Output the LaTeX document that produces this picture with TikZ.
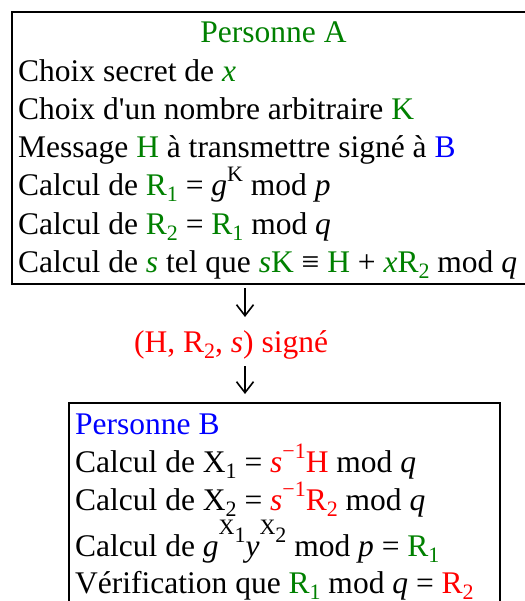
\documentclass[tikz,border=0pt]{standalone}
\usepackage{fontspec}
\setmainfont{Liberation Serif}[Ligatures=TeXOff]
\usetikzlibrary{arrows.meta}
\definecolor{grn}{RGB}{0,128,0}
\definecolor{blu}{RGB}{0,0,255}
\definecolor{rd}{RGB}{255,0,0}
\newcommand\bigsz{\fontsize{31.5pt}{36pt}\selectfont}
\newcommand\smsz{\fontsize{22pt}{25pt}\selectfont}
\newcommand\sbs[1]{\raisebox{-6pt}{\smsz #1}}
\newcommand\sps[1]{\raisebox{14pt}{\smsz #1}}
\newcommand\G[1]{\textcolor{grn}{#1}}
\newcommand\Rd[1]{\textcolor{rd}{#1}}
\newcommand\Bl[1]{\textcolor{blu}{#1}}
\tikzset{
  txt/.style={anchor=base west, inner sep=0pt, font=\bigsz},
  ctxt/.style={anchor=base, inner sep=0pt, font=\bigsz},
  boxst/.style={draw, line width=2pt, anchor=north west, inner sep=0pt},
  arr/.style={line width=1.6pt, -{Straight Barb[length=11pt,width=17pt,line width=1.6pt]}}
}
\begin{document}
\begin{tikzpicture}[x=1pt,y=-1pt]
\useasboundingbox (0,0) rectangle (524,601);
% boxes
\node[boxst, minimum width=530pt, minimum height=272pt] (boxA) at (11,11) {};
\node[boxst, minimum width=431pt, minimum height=230pt] (boxB) at (68,402) {};
% box A text
\node[ctxt] (a0) at (273.5,43) {\G{Personne A}};
\node[txt] (a1) at (18,81.5) {Choix secret de \G{\textit{x}}};
\node[txt] (a2) at (18,120) {Choix d'un nombre arbitraire \G{K}};
\node[txt] (a3) at (18,158) {Message \G{H} à transmettre signé à \Bl{B}};
\node[txt] (a4) at (18,196) {Calcul de \G{R\sbs{1}} = \textit{g}\sps{K} mod \textit{p}};
\node[txt] (a5) at (18,234) {Calcul de \G{R\sbs{2}} = \G{R\sbs{1}} mod \textit{q}};
\node[txt] (a6) at (18,272) {Calcul de \G{\textit{s}} tel que \G{\textit{s}K} ≡ \G{H} + \G{\textit{x}R\sbs{2}} mod \textit{q}};
% label
\node[txt] (lbl) at (134,352) {\Rd{(H, R\sbs{2}, \textit{s}) signé}};
% arrows
\coordinate (p1) at (245,288);
\coordinate (p2) at (245,317);
\coordinate (p3) at (245,366);
\coordinate (p4) at (245,394);
\draw[arr] (p1) -- (p2);
\draw[arr] (p3) -- (p4);
% box B text
\node[txt] (b0) at (75,434) {\Bl{Personne B}};
\node[txt] (b1) at (75,472.5) {Calcul de X\sbs{1} = \Rd{\textit{s}\sps{−1}H} mod \textit{q}};
\node[txt] (b2) at (75,510.5) {Calcul de X\sbs{2} = \Rd{\textit{s}\sps{−1}R\sbs{2}} mod \textit{q}};
\node[txt] (b3) at (75,556) {Calcul de \textit{g}\raisebox{22pt}{\smsz X\raisebox{-8pt}{1}}\textit{y}\raisebox{22pt}{\smsz X\raisebox{-8pt}{2}} mod \textit{p} = \G{R\sbs{1}}};
\node[txt] (b4) at (75,593) {Vérification que \G{R\sbs{1}} mod \textit{q} = \Rd{R\sbs{2}}};
\end{tikzpicture}
\end{document}
